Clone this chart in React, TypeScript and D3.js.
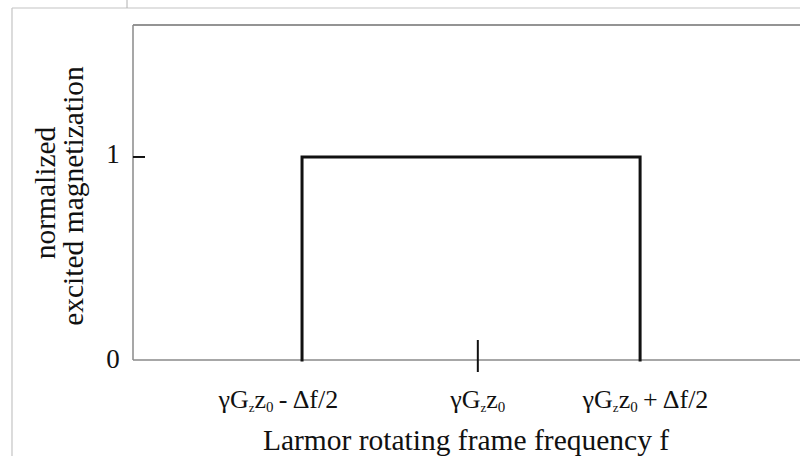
import React from "react";
import * as d3 from "d3";

// Data (x in units of Δf, centred on γGz z0; y normalized)
const pulseX: number[] = [-0.5, -0.5, 0.5, 0.5];
const pulseY: number[] = [0, 1, 1, 0];
const yTicks: number[] = [0, 1];
const yTickLabels: string[] = ["0", "1"];
const centerTick: number = 0.02;
const xLabelPos: number[] = [-0.57, 0.02, 0.51];
const xLabelSign: string[] = ["-", "", "+"];

const W = 800;
const H = 456;
const serif = "'Liberation Serif', 'Times New Roman', serif";

export default function App() {
  const x = d3.scaleLinear().domain([-1, 0.973]).range([133, 800]);
  const y = d3.scaleLinear().domain([0, 1.65]).range([360, 25]);
  const line = d3
    .line<number>()
    .x((_, i) => x(pulseX[i]))
    .y((d) => y(d));
  const pulsePath = line(pulseY) || "";

  return (
    <svg
      width={W}
      height={H}
      style={{ position: "absolute", left: 0, top: 0, background: "#fff" }}
      fontFamily={serif}
    >
      {/* page decoration lines */}
      <line x1={12} y1={8} x2={800} y2={8} stroke="#c4c4c4" strokeWidth={1.2} />
      <line x1={12} y1={8} x2={12} y2={456} stroke="#c4c4c4" strokeWidth={1.2} />
      <line x1={127} y1={0} x2={127} y2={8} stroke="#b0b0b0" strokeWidth={1} />

      {/* frame */}
      <line x1={x.range()[0]} y1={y(1.65)} x2={800} y2={y(1.65)} stroke="#707070" strokeWidth={1.5} />
      <line x1={x.range()[0]} y1={y(1.65)} x2={x.range()[0]} y2={y(0)} stroke="#8a8a8a" strokeWidth={1.5} />
      <line x1={x.range()[0]} y1={y(0)} x2={800} y2={y(0)} stroke="#8a8a8a" strokeWidth={1.5} />

      {/* y tick at 1 */}
      <line x1={x.range()[0]} y1={y(1)} x2={x.range()[0] + 12} y2={y(1)} stroke="#111" strokeWidth={2} />
      {yTicks.map((t, i) => (
        <text key={t} x={113} y={y(t) + (t === 0 ? 8 : 6)} fontSize={27} textAnchor="middle" fill="#111">
          {yTickLabels[i]}
        </text>
      ))}

      {/* pulse */}
      <path d={pulsePath} fill="none" stroke="#111" strokeWidth={3} strokeLinejoin="miter" strokeLinecap="square" />

      {/* centre tick */}
      <line x1={x(centerTick)} y1={y(0) - 20} x2={x(centerTick)} y2={y(0) + 12} stroke="#111" strokeWidth={2} />

      {/* x tick labels */}
      {xLabelPos.map((p, i) => (
        <text key={i} x={x(p) + (i === 2 ? 2 : 0)} y={408} fontSize={26} textAnchor="middle" fill="#111">
          <tspan>γG</tspan>
          <tspan fontSize={13} dy={4}>z</tspan>
          <tspan dy={-4}>z</tspan>
          <tspan fontSize={15} dy={4}>0</tspan>
          {xLabelSign[i] ? (
            <tspan dy={-4}>{xLabelSign[i] === "-" ? "\u2009-\u2009" : "\u2009+\u2009"}Δf/2</tspan>
          ) : null}
        </text>
      ))}

      {/* axis titles */}
      <text x={466} y={450} fontSize={29.5} textAnchor="middle" fill="#111">
        Larmor rotating frame frequency f
      </text>
      <text transform="translate(55,193) rotate(-90)" fontSize={29.5} textAnchor="middle" fill="#111">
        normalized
      </text>
      <text transform="translate(83,196) rotate(-90)" fontSize={29.5} textAnchor="middle" fill="#111">
        excited magnetization
      </text>
    </svg>
  );
}
